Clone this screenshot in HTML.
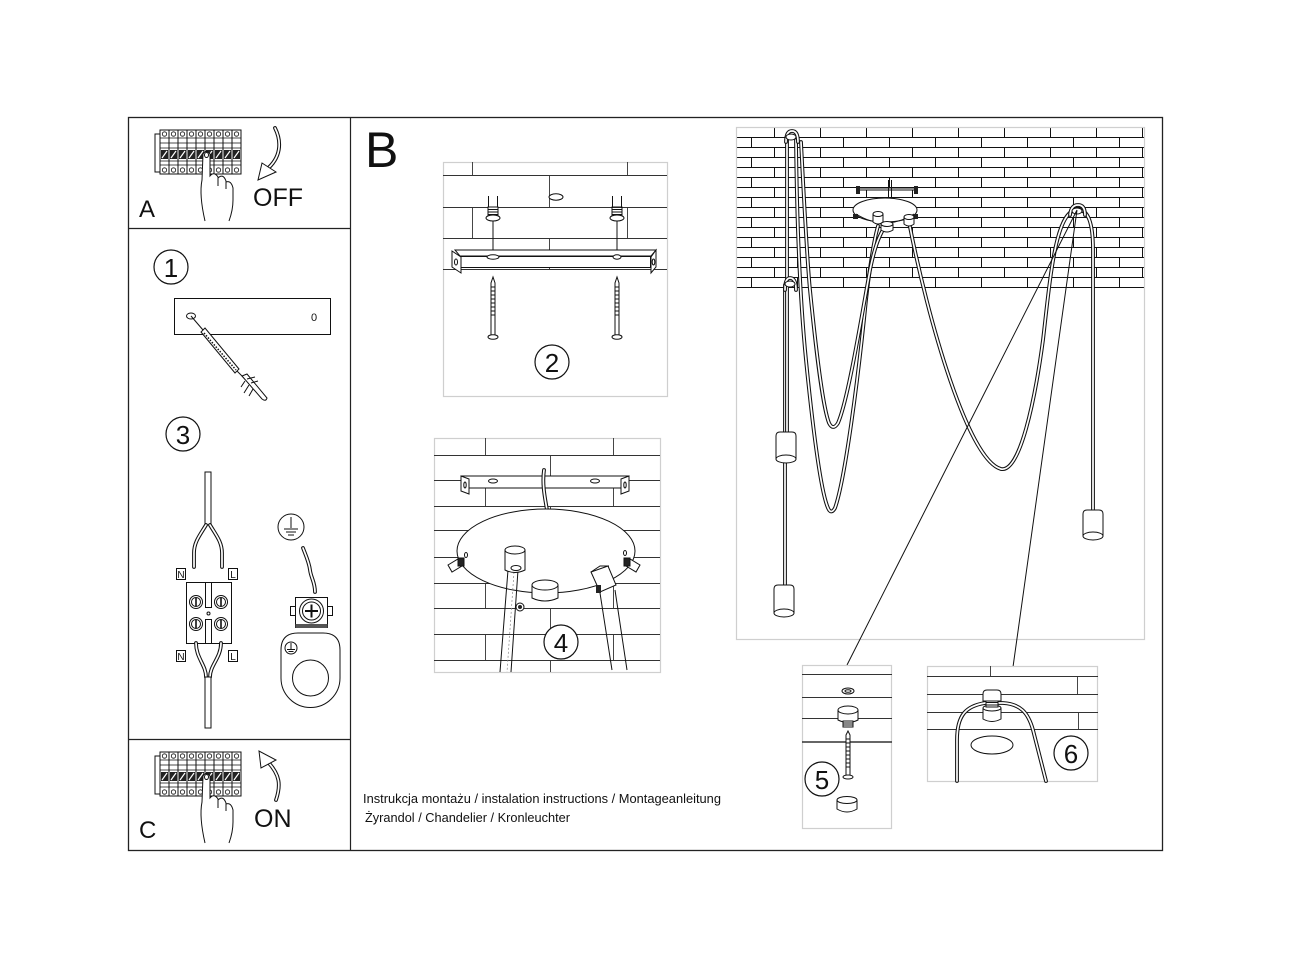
<!DOCTYPE html>
<html><head><meta charset="utf-8"><style>
html,body{margin:0;padding:0;background:#fff}
svg{display:block}
text{font-family:"Liberation Sans","Noto Sans CJK SC",sans-serif;fill:#111}
.k{fill:none;stroke:#111;stroke-width:1}
.g{fill:none;stroke:#cfcfcf;stroke-width:1.2}
.br{fill:none;stroke:#333;stroke-width:0.9}
.tb{fill:none;stroke:#111;stroke-width:3.8;stroke-linecap:round}
.tw{fill:none;stroke:#fff;stroke-width:1.7;stroke-linecap:round}
.w{fill:#fff;stroke:#111;stroke-width:1}
.nc{fill:#fff;stroke:#111;stroke-width:1.2}
</style></head><body>
<svg width="1291" height="968" viewBox="0 0 1291 968" xmlns="http://www.w3.org/2000/svg">
<defs>
<pattern id="bk" x="736" y="127" width="46" height="20" patternUnits="userSpaceOnUse">
<path d="M0,0.5H46M0,10.5H46M38.5,0V10.5M15.5,10.5V20" stroke="#111" stroke-width="1" fill="none"/>
</pattern>
<path id="c1" d="M787,140 L787,432"/>
<path id="c2" d="M785,285 L785,585"/>
<path id="h1" d="M786,142 Q786,131 792,131 Q798,131 798,142"/>
<path id="h2" d="M785,290 Q785,278 790,278 Q796,278 796,290"/>
<path id="ub" d="M796,140 C797,230 800,300 806,360 C812,420 820,490 828,508 Q831,515 835,508 C845,480 858,380 866,300 C870,265 874,240 878,226"/>
<path id="us" d="M801,142 C804,200 807,260 810,290 C815,340 822,405 829,423 Q833,431 838,423 C848,400 861,320 870,270 C874,250 878,238 884,228"/>
<path id="ur" d="M909,222 C928,320 968,460 1001,469 C1020,473 1035,400 1043,340 C1050,280 1055,215 1075,210 C1089,207 1093,225 1093,250 L1093,510"/>
<path id="hr" d="M1070,215 Q1071,205 1078,205 Q1085,205 1085,215"/>
<g id="brk">
<rect x="155" y="134" width="5" height="38" class="w"/>
<g class="w" stroke-width="0.8">
<rect x="160" y="130" width="9" height="44"/><rect x="169" y="130" width="9" height="44"/><rect x="178" y="130" width="9" height="44"/><rect x="187" y="130" width="9" height="44"/><rect x="196" y="130" width="9" height="44"/><rect x="205" y="130" width="9" height="44"/><rect x="214" y="130" width="9" height="44"/><rect x="223" y="130" width="9" height="44"/><rect x="232" y="130" width="9" height="44"/>
</g>
<path d="M160,138H241M160,143H241M160,148H241M160,161H241M160,165H241" stroke="#111" stroke-width="0.8" fill="none"/>
<g fill="#222">
<rect x="161" y="150" width="7" height="9"/><rect x="170" y="150" width="7" height="9"/><rect x="179" y="150" width="7" height="9"/><rect x="188" y="150" width="7" height="9"/><rect x="197" y="150" width="7" height="9"/><rect x="206" y="150" width="7" height="9"/><rect x="215" y="150" width="7" height="9"/><rect x="224" y="150" width="7" height="9"/><rect x="233" y="150" width="7" height="9"/>
</g>
<path d="M162,158L167,151M171,158L176,151M180,158L185,151M189,158L194,151M198,158L203,151M207,158L212,151M216,158L221,151M225,158L230,151M234,158L239,151" stroke="#fff" stroke-width="1.2"/>
<g fill="#fff" stroke="#111" stroke-width="0.8">
<circle cx="164.5" cy="134" r="2.2"/><circle cx="173.5" cy="134" r="2.2"/><circle cx="182.5" cy="134" r="2.2"/><circle cx="191.5" cy="134" r="2.2"/><circle cx="200.5" cy="134" r="2.2"/><circle cx="209.5" cy="134" r="2.2"/><circle cx="218.5" cy="134" r="2.2"/><circle cx="227.5" cy="134" r="2.2"/><circle cx="236.5" cy="134" r="2.2"/>
<circle cx="164.5" cy="170" r="2.2"/><circle cx="173.5" cy="170" r="2.2"/><circle cx="182.5" cy="170" r="2.2"/><circle cx="191.5" cy="170" r="2.2"/><circle cx="200.5" cy="170" r="2.2"/><circle cx="209.5" cy="170" r="2.2"/><circle cx="218.5" cy="170" r="2.2"/><circle cx="227.5" cy="170" r="2.2"/><circle cx="236.5" cy="170" r="2.2"/>
</g>
<path d="M205,221 Q199,195 202,180 L203,154 Q206,149 210,154 L210,176 Q214,171 218,177 Q223,173 226,181 Q231,180 233,188 L233,200 Q233,210 229,221 Z" fill="#fff"/>
<path d="M205,221 Q199,195 202,180 L203,154 Q206,149 210,154 L210,176 Q214,171 218,177 L218,186 M218,178 Q223,173 226,181 L226,189 M226,182 Q231,180 233,188 L233,200 Q233,210 229,221" class="k"/>
<ellipse cx="206.5" cy="155" rx="2" ry="2.5" class="k" stroke-width="0.7"/>
</g>
</defs>

<!-- frame -->
<rect x="128.5" y="117.5" width="1034" height="733" fill="none" stroke="#222" stroke-width="1.3"/>
<path d="M350.5,117V851M128,228.5H351M128,739.5H351" stroke="#222" stroke-width="1.2" fill="none"/>

<!-- A box -->
<use href="#brk"/>
<path d="M275,128 C282,142 281,158 266,170" class="tb" stroke-width="4.8"/>
<path d="M275,128 C282,142 281,158 266,170" class="tw" stroke-width="2.2"/>
<polygon points="258,180 262,163 276,172" class="w"/>
<text x="139" y="217" font-size="24">A</text>
<text x="253" y="206" font-size="25">OFF</text>

<!-- C box -->
<use href="#brk" transform="translate(0,622)"/>
<path d="M276,800 C281,785 280,775 268,762" class="tb" stroke-width="4.8"/>
<path d="M276,800 C281,785 280,775 268,762" class="tw" stroke-width="2.2"/>
<polygon points="259,751 261,768 276,760" class="w"/>
<text x="139" y="838" font-size="24">C</text>
<text x="254" y="827" font-size="25">ON</text>

<!-- B -->
<text x="365" y="167" font-size="50">B</text>

<!-- step 1 -->
<circle cx="171" cy="267" r="17" class="nc"/>
<text x="171" y="277" font-size="26" text-anchor="middle">1</text>
<rect x="174.5" y="298.5" width="156" height="36" class="k"/>
<text x="314" y="321" font-size="11" text-anchor="middle">0</text>
<ellipse cx="191" cy="316" rx="4.5" ry="3" class="k"/>
<path d="M191,316 L203,330" class="k"/>
<path d="M201,332 L235,373 L239,369 L205,328 Z" class="w"/>
<path d="M204,333 L236,370" stroke="#111" stroke-width="1.5" stroke-dasharray="1.5,1.5"/>
<path d="M237,371 L245,379" class="k"/>
<path d="M242,376 L262,399 Q266,402 267,398 L247,374 Z" class="w"/>
<path d="M245,381 L241,387 M249,385 L244,393 M253,389 L249,396 M247,379 L255,377 M251,383 L258,381" class="k" stroke-width="1.3"/>

<!-- step 3 -->
<circle cx="183" cy="434" r="17" class="nc"/>
<text x="183" y="444" font-size="26" text-anchor="middle">3</text>
<rect x="205" y="472" width="6" height="53" class="w"/>
<path d="M206,525 C200,535 194,542 194,553 L194,567" class="tb" stroke-width="4.5"/>
<path d="M206,525 C200,535 194,542 194,553 L194,567" class="tw" stroke-width="2.2"/>
<path d="M210,525 C216,535 222,542 222,553 L222,567" class="tb" stroke-width="4.5"/>
<path d="M210,525 C216,535 222,542 222,553 L222,567" class="tw" stroke-width="2.2"/>
<rect x="176.5" y="568.5" width="9" height="11" class="w"/><text x="181" y="578" font-size="10" text-anchor="middle">N</text>
<rect x="228.5" y="568.5" width="9" height="11" class="w"/><text x="233" y="578" font-size="10" text-anchor="middle">L</text>
<rect x="186.5" y="582.5" width="45" height="61" class="w"/>
<rect x="205.5" y="582.5" width="6" height="25" class="w"/>
<rect x="205.5" y="619.5" width="6" height="24" class="w"/>
<circle cx="208.5" cy="613.5" r="1.5" class="k"/>
<g class="w">
<circle cx="196" cy="602" r="6.5"/><circle cx="221" cy="602" r="6.5"/><circle cx="196" cy="624" r="6.5"/><circle cx="221" cy="624" r="6.5"/>
<circle cx="196" cy="602" r="4.5"/><circle cx="221" cy="602" r="4.5"/><circle cx="196" cy="624" r="4.5"/><circle cx="221" cy="624" r="4.5"/>
</g>
<path d="M196,598V606M221,598V606M196,620V628M221,620V628" stroke="#111" stroke-width="1.6"/>
<rect x="176.5" y="650.5" width="9" height="11" class="w"/><text x="181" y="660" font-size="10" text-anchor="middle">N</text>
<rect x="228.5" y="650.5" width="9" height="11" class="w"/><text x="233" y="660" font-size="10" text-anchor="middle">L</text>
<path d="M196,643 C196,658 206,665 206,677" class="tb" stroke-width="4.5"/>
<path d="M196,643 C196,658 206,665 206,677" class="tw" stroke-width="2.2"/>
<path d="M221,643 C221,658 210,665 210,677" class="tb" stroke-width="4.5"/>
<path d="M221,643 C221,658 210,665 210,677" class="tw" stroke-width="2.2"/>
<rect x="205" y="677" width="6" height="51" class="w"/>

<!-- ground -->
<circle cx="291" cy="527" r="13" class="w"/>
<path d="M291,517V528M284,529H298M286,532H296M288,535H294" class="k"/>
<path d="M303,548 C306,556 309,562 310,570 C311,578 315,582 315,592" class="tb" stroke-width="4"/>
<path d="M303,548 C306,556 309,562 310,570 C311,578 315,582 315,592" class="tw" stroke-width="1.8"/>
<rect x="290.5" y="606.5" width="5" height="9" class="w"/>
<rect x="327.5" y="606.5" width="5" height="9" class="w"/>
<rect x="295.5" y="597.5" width="32" height="30" class="w"/>
<rect x="295.5" y="624" width="32" height="4" fill="#555"/>
<circle cx="311.5" cy="611" r="12" class="w"/>
<circle cx="311.5" cy="611" r="9" class="w"/>
<path d="M305,611H318M311.5,604.5V617.5" stroke="#111" stroke-width="2"/>
<path d="M281,650 Q281,633 298,633 L323,633 Q340,633 340,650 L340,678 A29.5,29.5 0 0 1 281,678 Z" class="w"/>
<circle cx="310.5" cy="678" r="18" class="w"/>
<circle cx="291" cy="648" r="6" class="w"/>
<path d="M291,643V649M287,649.5H295M288.5,651.5H293.5" class="k" stroke-width="0.8"/>

<!-- panel 2 -->
<rect x="443.5" y="162.5" width="224" height="234" class="g"/>
<path d="M443,175.5H667M443,207.5H667M443,238.5H667M443,269.5H667M472.5,162V175M627.5,162V175M549.5,175V207M472.5,207V238M627.5,207V238M549.5,238V269" class="br"/>
<ellipse cx="556" cy="197" rx="7" ry="3.2" class="w"/>
<g>
<path d="M488.5,196V208M497.5,196V208M612.5,196V208M621.5,196V208" class="k"/>
<rect x="488" y="207" width="10" height="10" fill="#fff" stroke="#111"/>
<path d="M488,209.5H498M488,212H498M488,214.5H498M612,209.5H622M612,212H622M612,214.5H622" class="k" stroke-width="0.8"/>
<rect x="612" y="207" width="10" height="10" fill="none" stroke="#111"/>
<ellipse cx="493" cy="218" rx="7" ry="3" class="w"/>
<ellipse cx="617" cy="218" rx="7" ry="3" class="w"/>
<path d="M493,221V250M617,221V250" class="k" stroke-width="0.7"/>
</g>
<path d="M455,250 L656,250 L651,256 L460,256 Z" class="w"/>
<rect x="460.5" y="256.5" width="190" height="11" class="w"/>
<path d="M452,251 L461,257 L461,273 L452,267 Z" class="w"/>
<path d="M656,250 L651,257 L651,273 L656,267 Z" class="w"/>
<ellipse cx="456" cy="262" rx="1.5" ry="3" class="k"/>
<ellipse cx="653.5" cy="262" rx="1.3" ry="3" class="k"/>
<ellipse cx="493" cy="257" rx="6" ry="2.2" class="w"/>
<ellipse cx="617" cy="257" rx="4" ry="2.2" class="w"/>
<g>
<path d="M493,277 L491,283 L491,335 L495,335 L495,283 Z" class="w"/>
<path d="M617,277 L615,283 L615,335 L619,335 L619,283 Z" class="w"/>
<path d="M491,287H495M491,291H495M491,295H495M491,299H495M491,303H495M491,307H495M491,311H495M491,315H495M615,287H619M615,291H619M615,295H619M615,299H619M615,303H619M615,307H619M615,311H619M615,315H619" class="k" stroke-width="0.8"/>
<ellipse cx="493" cy="337" rx="5" ry="2.3" class="w"/>
<ellipse cx="617" cy="337" rx="5" ry="2.3" class="w"/>
</g>
<circle cx="552" cy="362" r="17" class="nc"/>
<text x="552" y="372" font-size="26" text-anchor="middle">2</text>

<!-- panel 4 -->
<rect x="434.5" y="438.5" width="226" height="234" class="g"/>
<path d="M434,455.5H660M434,480.5H660M434,506.5H660M434,530.5H660M434,557.5H660M434,583.5H660M434,608.5H660M434,634.5H660M434,660.5H660
M485.5,438V455M613.5,438V455M550.5,455V480M485.5,480V506M613.5,480V506M550.5,506V530M485.5,530V557M613.5,530V557M550.5,557V583M485.5,583V608M613.5,583V608M550.5,608V634M485.5,634V660M613.5,634V660M550.5,660V672" class="br"/>
<path d="M461,476 L629,476 L629,488 L461,488 Z" class="w"/>
<path d="M461,476 L469,479 L469,494 L461,491 Z" class="w"/>
<path d="M629,476 L621,479 L621,494 L629,491 Z" class="w"/>
<ellipse cx="465" cy="485" rx="1.2" ry="3" class="k"/>
<ellipse cx="625" cy="485" rx="1.2" ry="3" class="k"/>
<ellipse cx="493" cy="481" rx="4.5" ry="2" class="w"/>
<ellipse cx="595" cy="481" rx="4.5" ry="2" class="w"/>
<path d="M544,470 C542,485 545,498 547,510" class="tb" stroke-width="4.5"/>
<path d="M544,470 C542,485 545,498 547,510" class="tw" stroke-width="2.2"/>
<ellipse cx="546" cy="551" rx="89" ry="42" class="w"/>
<ellipse cx="466" cy="555" rx="1.5" ry="2.5" class="k"/>
<ellipse cx="625" cy="553" rx="1.5" ry="2.5" class="k"/>
<g class="w">
<path d="M448,565 L458,559 L462,566 L452,572 Z"/>
<rect x="458" y="558" width="6" height="8" fill="#222"/>
<path d="M640,565 L630,559 L626,566 L636,572 Z"/>
<rect x="624" y="558" width="6" height="8" fill="#222"/>
</g>
<path d="M508,570 L500,672 M518,570 L511,672" class="k"/>
<path d="M514,572 L507,672" stroke="#888" stroke-width="0.7" stroke-dasharray="2,2" fill="none"/>
<path d="M505,550 L505,570 Q515,575 525,570 L525,550 Z" class="w"/>
<ellipse cx="515" cy="550" rx="10" ry="4" class="w"/>
<ellipse cx="516" cy="568" rx="5" ry="2.5" class="k"/>
<circle cx="520" cy="607" r="4" class="w"/>
<circle cx="520" cy="607" r="2" fill="#222"/>
<path d="M600,593 L612,670 M615,590 L627,670" class="k"/>
<path d="M591,572 L608,566 L616,585 L600,592 Z" class="w"/>
<path d="M591,572 L600,566 L609,566 L608,566" class="k"/>
<rect x="596" y="585" width="5" height="8" fill="#222"/>
<path d="M532,585 L532,598 Q545,604 558,598 L558,585" class="w"/>
<ellipse cx="545" cy="585" rx="13" ry="5" class="w"/>
<circle cx="561" cy="642" r="17" class="nc"/>
<text x="561" y="652" font-size="26" text-anchor="middle">4</text>

<!-- big panel -->
<rect x="736" y="127" width="409" height="160" fill="url(#bk)"/>
<path d="M736,287.5H1145" stroke="#111" stroke-width="1"/>
<rect x="736.5" y="127.5" width="408" height="512" class="g"/>

<!-- cables -->
<use href="#c2" class="tb"/><use href="#c2" class="tw"/>
<use href="#ub" class="tb"/><use href="#ub" class="tw"/>
<use href="#us" class="tb"/><use href="#us" class="tw"/>
<use href="#c1" class="tb"/><use href="#c1" class="tw"/>
<use href="#ur" class="tb"/><use href="#ur" class="tw"/>
<use href="#h1" class="tb"/><use href="#h1" class="tw"/>
<use href="#h2" class="tb"/><use href="#h2" class="tw"/>
<use href="#hr" class="tb"/><use href="#hr" class="tw"/>
<ellipse cx="791" cy="137" rx="5" ry="3" class="w"/>
<ellipse cx="790" cy="284" rx="5" ry="3" class="w"/>
<ellipse cx="1077" cy="211" rx="5" ry="3" class="w"/>

<!-- canopy -->
<path d="M857,189 L917,189" stroke="#111" stroke-width="3"/>
<path d="M857,189 L917,189" stroke="#fff" stroke-width="1"/>
<rect x="856" y="186" width="4" height="8" fill="#222"/>
<rect x="914" y="186" width="4" height="8" fill="#222"/>
<path d="M888.5,180V199M891.5,180V199" class="k"/>
<ellipse cx="885" cy="210" rx="32" ry="12" class="w"/>
<path d="M856,214 Q885,232 914,214" class="k" stroke-width="0.7"/>
<rect x="853" y="214" width="5" height="5" fill="#222"/>
<rect x="913" y="214" width="5" height="5" fill="#222"/>
<path d="M873,214 L873,222 Q878,226 883,222 L883,214" class="w"/>
<ellipse cx="878" cy="214" rx="5" ry="2.5" class="w"/>
<path d="M904,217 L904,224 Q909,228 914,224 L914,217" class="w"/>
<ellipse cx="909" cy="217" rx="5" ry="2.5" class="w"/>
<path d="M881,224 L881,230 Q887,234 893,230 L893,224" class="w"/>
<ellipse cx="887" cy="224" rx="6" ry="2.5" class="w"/>

<!-- lamps -->
<path d="M776,436 Q776,432 780,432 L792,432 Q796,432 796,436 L796,459 L776,459 Z" class="w"/>
<ellipse cx="786" cy="459" rx="10" ry="4" class="w"/>
<path d="M774,589 Q774,585 778,585 L790,585 Q794,585 794,589 L794,613 L774,613 Z" class="w"/>
<ellipse cx="784" cy="613" rx="10" ry="4" class="w"/>
<path d="M1083,514 Q1083,510 1087,510 L1099,510 Q1103,510 1103,514 L1103,536 L1083,536 Z" class="w"/>
<ellipse cx="1093" cy="536" rx="10" ry="4" class="w"/>

<!-- leader lines -->
<path d="M847,665 L1077,210 M1013,667 L1077,210" class="k"/>

<!-- panel 5 -->
<rect x="802.5" y="665.5" width="89" height="163" class="g"/>
<path d="M802,674.5H892M802,697.5H892M802,718.5H892" class="br"/>
<path d="M802,742H892" stroke="#333" stroke-width="1.5"/>
<ellipse cx="848" cy="691" rx="6" ry="3" class="w"/>
<ellipse cx="848" cy="691" rx="3" ry="1.3" class="k"/>
<path d="M838,710 L838,720 Q848,725 858,720 L858,710" class="w"/>
<ellipse cx="848" cy="710" rx="10" ry="4" class="w"/>
<rect x="843" y="721" width="10" height="6" class="w"/>
<path d="M843,723H853M843,725H853" class="k" stroke-width="0.7"/>
<path d="M848,731 L846,735 L846,776 L850,776 L850,735 Z" class="w"/>
<path d="M846,739H850M846,743H850M846,747H850M846,751H850M846,755H850M846,759H850M846,763H850M846,767H850" class="k" stroke-width="0.7"/>
<ellipse cx="848" cy="777" rx="5" ry="2" class="w"/>
<path d="M837,800 L837,809 Q847,815 857,809 L857,800" class="w"/>
<ellipse cx="847" cy="800" rx="10" ry="3.5" class="w"/>
<circle cx="822" cy="779" r="17" class="nc"/>
<text x="822" y="789" font-size="26" text-anchor="middle">5</text>

<!-- panel 6 -->
<rect x="927.5" y="666.5" width="170" height="115" class="g"/>
<path d="M927,676.5H1098M927,694.5H1098M927,712.5H1098M927,729.5H1098M990.5,666V676M1077.5,676V694M1078.5,712V729" class="br"/>
<path d="M957,781 L957,740 C957,715 966,706 985,703 L1003,703 C1020,704 1028,712 1033,730 L1046,781" class="tb" stroke-width="7"/>
<path d="M957,781 L957,740 C957,715 966,706 985,703 L1003,703 C1020,704 1028,712 1033,730 L1046,781" class="tw" stroke-width="4.8"/>
<ellipse cx="992" cy="745" rx="21" ry="9" class="k" stroke-width="0.8"/>
<path d="M983,708 L983,719 Q992,724 1001,719 L1001,708" class="w"/>
<ellipse cx="992" cy="708" rx="9" ry="3" class="w"/>
<rect x="986" y="700" width="12" height="7" class="w"/>
<path d="M986,702.5H998M986,705H998" class="k" stroke-width="0.8"/>
<path d="M983,694 Q983,690 987,690 L997,690 Q1001,690 1001,694 L1001,701 L983,701 Z" class="w"/>
<circle cx="1071" cy="753" r="17" class="nc"/>
<text x="1071" y="763" font-size="26" text-anchor="middle">6</text>

<!-- footer text -->
<text x="363" y="803" font-size="13" textLength="358" lengthAdjust="spacingAndGlyphs">Instrukcja montażu / instalation instructions / Montageanleitung</text>
<text x="365" y="822" font-size="13" textLength="205" lengthAdjust="spacingAndGlyphs">Żyrandol / Chandelier / Kronleuchter</text>
</svg>
</body></html>
